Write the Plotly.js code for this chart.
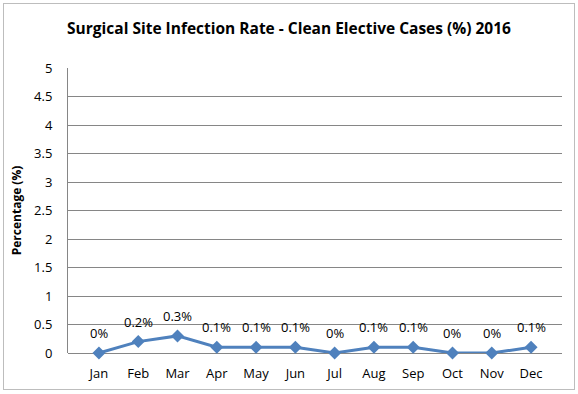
<!DOCTYPE html>
<html><head><meta charset="utf-8">
<script src="https://cdn.plot.ly/plotly-3.0.1.min.js"></script>
<style>
html,body{margin:0;padding:0;background:#fff;}
#wrap{position:relative;width:578px;height:394px;}
#chart{position:absolute;left:0;top:0;width:578px;height:394px;}
#frame{position:absolute;left:3px;top:3px;width:570px;height:385px;border:1.5px solid #bdbdbd;pointer-events:none;}
</style></head>
<body>
<div id="wrap"><div id="chart"></div><div id="frame"></div></div>
<script>
const months = ["Jan","Feb","Mar","Apr","May","Jun","Jul","Aug","Sep","Oct","Nov","Dec"];
const rates = [0,0.2,0.3,0.1,0.1,0.1,0,0.1,0.1,0,0,0.1];
const yTicks = [0,0.5,1,1.5,2,2.5,3,3.5,4,4.5,5];
const fontFam = "Open Sans, Liberation Sans, Arial, sans-serif";
const labels = months.map((m, i) => ({
  x: m, y: rates[i], xref: 'x', yref: 'y', text: rates[i] + '%', showarrow: false,
  yanchor: 'middle', yshift: 20, font: {family: fontFam, size: 13, color: '#000'}
}));
Plotly.newPlot('chart', [{
  x: months, y: rates, type: 'scatter', mode: 'lines+markers',
  line: {color: '#4f81bd', width: 3},
  marker: {symbol: 'diamond', size: 10, color: '#4f81bd'},
  cliponaxis: false, hoverinfo: 'none'
}], {
  width: 578, height: 394,
  margin: {l: 68, r: 16, t: 68, b: 41},
  paper_bgcolor: '#fff', plot_bgcolor: '#fff',
  showlegend: false,
  annotations: labels,
  title: {text: '<b>Surgical Site Infection Rate - Clean Elective Cases (%) 2016</b>',
    font: {family: fontFam, size: 15.5, color: '#000'}, x: 0.5, xanchor: 'center', y: 0.928, yanchor: 'middle'},
  xaxis: {type: 'category', showgrid: false, zeroline: false, showline: false,
    ticks: 'outside', ticklen: 8, tickcolor: 'rgba(0,0,0,0)',
    tickfont: {family: fontFam, size: 13, color: '#000'}, fixedrange: true},
  yaxis: {range: [0, 5], tickvals: yTicks, ticktext: yTicks.map(String),
    showgrid: true, gridcolor: '#868686', gridwidth: 1, zeroline: true, zerolinecolor: '#868686', zerolinewidth: 1,
    showline: true, linecolor: '#868686', linewidth: 1, ticks: 'outside', ticklen: 12, tickcolor: 'rgba(0,0,0,0)',
    tickfont: {family: fontFam, size: 13, color: '#000'},
    title: {text: '<b>Percentage (%)</b>', font: {family: fontFam, size: 12, color: '#000'}, standoff: 9},
    fixedrange: true}
}, {displayModeBar: false, staticPlot: true});
</script>
</body></html>
